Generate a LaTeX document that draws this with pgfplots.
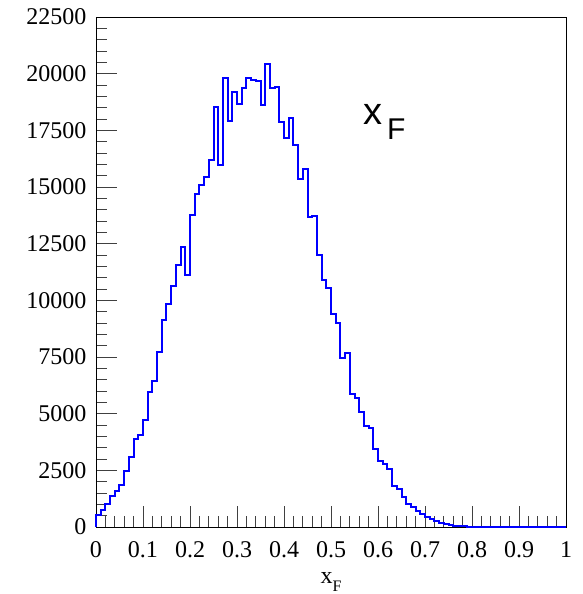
\documentclass[border=0pt]{standalone}
\usepackage{fontspec}
\setmainfont{Liberation Serif}
\newfontfamily\sansfam{Liberation Sans}
\usepackage{pgfplots}
\usepackage{pgfplotstable}
\pgfplotsset{compat=1.18}

% Feynman-x distribution, 100 bins of width 0.01 (left edge, entries)
\pgfplotstableread{
x     n
0.00  0
0.00  510
0.01  760
0.02  1000
0.03  1380
0.04  1600
0.05  1860
0.06  2490
0.07  3110
0.08  3900
0.09  4070
0.10  4730
0.11  5940
0.12  6420
0.13  7710
0.14  9150
0.15  9860
0.16  10650
0.17  11580
0.18  12350
0.19  11130
0.20  13760
0.21  14700
0.22  15090
0.23  15440
0.24  16180
0.25  18530
0.26  15960
0.27  19830
0.28  17920
0.29  19200
0.30  18650
0.31  19360
0.32  19790
0.33  19710
0.34  19680
0.35  18610
0.36  20420
0.37  19360
0.38  19390
0.39  17850
0.40  17160
0.41  18050
0.42  16850
0.43  15360
0.44  15790
0.45  13690
0.46  13700
0.47  11980
0.48  10890
0.49  10550
0.50  9400
0.51  9000
0.52  7460
0.53  7680
0.54  5870
0.55  5690
0.56  5070
0.57  4460
0.58  4360
0.59  3450
0.60  2920
0.61  2760
0.62  2570
0.63  1810
0.64  1660
0.65  1310
0.66  1020
0.67  900
0.68  720
0.69  575
0.70  455
0.71  350
0.72  280
0.73  190
0.74  130
0.75  90
0.76  60
0.77  42
0.78  28
0.79  19
0.80  13
0.81  9
0.82  6
0.83  4
0.84  3
0.85  2
0.86  1
0.87  1
0.88  0
0.89  0
0.90  0
0.91  0
0.92  0
0.93  0
0.94  0
0.95  0
0.96  0
0.97  0
0.98  0
0.99  0
1.00  0
}\xfdata

\begin{document}
\begin{tikzpicture}
\begin{axis}[
  anchor=south west, at={(0pt,0pt)},
  scale only axis,
  width=470pt, height=510pt,
  xmin=0, xmax=1, ymin=0, ymax=22500,
  xtick={0,0.1,...,1.0001},
  xticklabels={0,0.1,0.2,0.3,0.4,0.5,0.6,0.7,0.8,0.9,1},
  ytick={0,2500,...,22500},
  minor x tick num=4, minor y tick num=4,
  tick align=inside, tick pos=left,
  major tick length=21pt, minor tick length=11pt,
  every tick/.style={black!75, line width=0.7pt},
  axis line style={black, line width=0.8pt},
  scaled y ticks=false,
  /pgf/number format/.cd, 1000 sep={}, assume math mode=true,
  /pgfplots/.cd,
  tick label style={font=\fontsize{24}{26}\selectfont},
  xticklabel style={anchor=base, yshift=-30pt},
  yticklabel style={anchor=east, xshift=-6pt},
  xlabel={x\raisebox{-8pt}{\fontsize{16}{18}\selectfont F}},
  xlabel style={at={(axis description cs:0.5,0)}, anchor=base, yshift=-56pt,
    font=\fontsize{24}{26}\selectfont},
  clip=false,
]
\addplot[const plot, color={rgb,255:red,0;green,0;blue,255}, line width=2pt,
  line join=miter, mark=none]
  table[x=x, y=n] {\xfdata};
\node[anchor=base west, inner sep=0pt, font=\sansfam\fontsize{38}{40}\selectfont]
  at (axis cs:0.568,17770) {x\kern5pt\raisebox{-15pt}{\fontsize{30}{32}\selectfont F}};
\end{axis}
\pgfresetboundingbox
\path (-96pt,-67pt) rectangle (486pt,527pt);
\end{tikzpicture}
\end{document}
